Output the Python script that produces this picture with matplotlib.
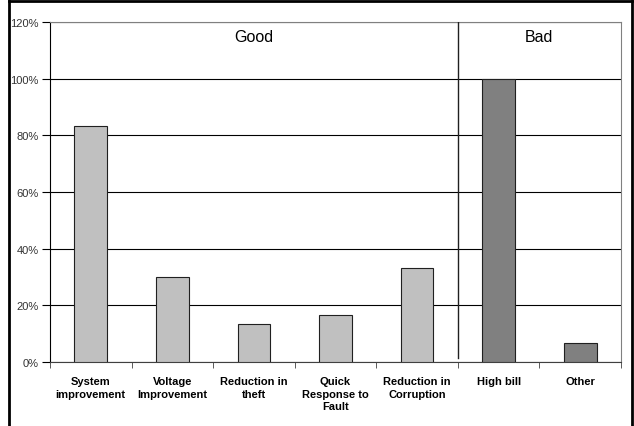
import matplotlib.pyplot as plt
from matplotlib.lines import Line2D
from matplotlib.ticker import FixedLocator, PercentFormatter

plt.rcParams['font.family'] = ['Liberation Sans', 'DejaVu Sans']

# survey answers, share of respondents
categories = ['System\nimprovement', 'Voltage\nImprovement', 'Reduction in\ntheft',
              'Quick\nResponse to\nFault', 'Reduction in\nCorruption', 'High bill', 'Other']
good_values = [83.3, 30.0, 13.3, 16.7, 33.3]
bad_values = [100.0, 6.7]
group_names = ['Good', 'Bad']

fig = plt.figure(figsize=(6.34, 4.27), dpi=100)
ax = fig.add_axes([0.0789, 0.1499, 0.9006, 0.7962])

n_good = len(good_values)
x_good = list(range(n_good))
x_bad = list(range(n_good, n_good + len(bad_values)))

ax.bar(x_good, good_values, width=0.4, color='#C0C0C0', edgecolor='#202020', linewidth=0.8, zorder=3)
ax.bar(x_bad, bad_values, width=0.4, color='#808080', edgecolor='#202020', linewidth=0.8, zorder=3)

ax.set_xlim(-0.5, len(categories) - 0.5)
ax.set_ylim(0, 120)
ax.yaxis.set_major_locator(FixedLocator([0, 20, 40, 60, 80, 100, 120]))
ax.yaxis.set_major_formatter(PercentFormatter(decimals=0))
ax.grid(axis='y', color='black', linewidth=0.8, zorder=0)

# category labels centred, ticks on the boundaries
ax.set_xticks(range(len(categories)))
ax.set_xticklabels(categories, fontsize=8, fontweight='bold', linespacing=1.35, va='top')
ax.tick_params(axis='x', which='major', length=0, pad=10)
ax.set_xticks([i - 0.5 for i in range(len(categories) + 1)], minor=True)
ax.tick_params(axis='x', which='minor', length=4, color='#404040', direction='out')
ax.tick_params(axis='y', length=6, color='black', labelsize=8, labelcolor='#333333', pad=2)

ax.spines['left'].set_color('black')
ax.spines['bottom'].set_color('#404040')
ax.spines['top'].set_color('#808080')
ax.spines['right'].set_color('#808080')

# split between the two groups
ax.axvline(n_good - 0.5, ymin=0.012, ymax=1, color='#202020', linewidth=1, zorder=4)
ax.text((n_good - 1) / 2, 115, group_names[0], ha='center', va='center', fontsize=11.5)
ax.text(n_good + (len(bad_values) - 1) / 2, 115, group_names[1], ha='center', va='center', fontsize=11.5)

# frame round the chart
fig.add_artist(Line2D([9 / 634, 9 / 634], [-0.1, 1 - 1.5 / 427], transform=fig.transFigure, color='black', linewidth=2))
fig.add_artist(Line2D([632 / 634, 632 / 634], [-0.1, 1 - 1.5 / 427], transform=fig.transFigure, color='black', linewidth=2))
fig.add_artist(Line2D([9 / 634, 632 / 634], [1 - 1.5 / 427, 1 - 1.5 / 427], transform=fig.transFigure, color='black', linewidth=2))

fig.savefig('out.png', dpi=100)
